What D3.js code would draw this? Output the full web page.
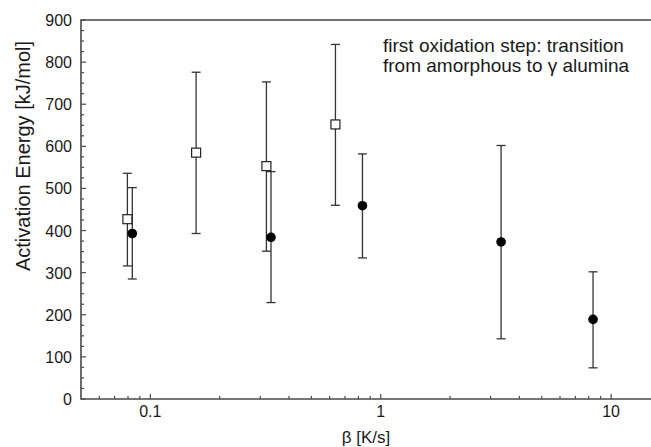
<!DOCTYPE html>
<html>
<head>
<meta charset="utf-8">
<script src="https://cdn.jsdelivr.net/npm/d3@7"></script>
<style>
  body { margin: 0; background: #fff; }
  text { font-family: "Liberation Sans", Arial, sans-serif; fill: #1a1a1a; }
</style>
</head>
<body>
<div id="chart"></div>
<script>
// open squares (first series)
const squareBeta = [0.0795, 0.158, 0.319, 0.636];
const squareEa   = [427, 585, 553, 652];
const squareLow  = [316, 393, 351, 460];
const squareHigh = [536, 776, 753, 842];

// filled circles (second series)
const circleBeta = [0.0835, 0.334, 0.833, 3.33, 8.35];
const circleEa   = [393, 384, 459, 373, 189];
const circleLow  = [285, 229, 335, 143, 74];
const circleHigh = [502, 540, 582, 602, 302];

const yTicks = [0, 100, 200, 300, 400, 500, 600, 700, 800, 900];
const xTicks = [0.1, 1, 10];
const noteLines = ["first oxidation step: transition", "from amorphous to \u03b3 alumina"];

// Setup SVG dimensions and margins
let margin = { top: 20, right: 0, bottom: 48, left: 81 },
    width = 651 - margin.left - margin.right,
    height = 447 - margin.top - margin.bottom;

let svg = d3.select("#chart").append("svg")
    .attr("width", 651)
    .attr("height", 447)
    .append("g")
    .attr("transform", `translate(${margin.left}, ${margin.top})`);

let x = d3.scaleLog().domain([0.05, 14.9]).range([0, width]);
let y = d3.scaleLinear().domain([0, 900]).range([379, 0]);

const axisColor = "#4a4a4a";

// minor ticks on x (log 2..9 per decade)
let xMinor = [];
[0.01, 0.1, 1, 10].forEach(d => {
    for (let k = 2; k <= 9; k++) {
        let v = d * k;
        if (v > 0.05 && v < 14.9 && !xTicks.includes(v)) xMinor.push(v);
    }
});
svg.selectAll(".xminor").data(xMinor).enter().append("line")
    .attr("x1", d => x(d)).attr("x2", d => x(d))
    .attr("y1", 379).attr("y2", 376)
    .attr("stroke", axisColor).attr("stroke-width", 1.2);
svg.selectAll(".xmajor").data(xTicks).enter().append("line")
    .attr("x1", d => x(d)).attr("x2", d => x(d))
    .attr("y1", 379).attr("y2", 374)
    .attr("stroke", axisColor).attr("stroke-width", 1.2);

// minor ticks on y every 25
let yMinor = d3.range(0, 901, 25).filter(d => d % 100 !== 0);
svg.selectAll(".yminor").data(yMinor).enter().append("line")
    .attr("x1", 0).attr("x2", 3)
    .attr("y1", d => y(d)).attr("y2", d => y(d))
    .attr("stroke", axisColor).attr("stroke-width", 1.2);
svg.selectAll(".ymajor").data(yTicks).enter().append("line")
    .attr("x1", 0).attr("x2", 5)
    .attr("y1", d => y(d)).attr("y2", d => y(d))
    .attr("stroke", axisColor).attr("stroke-width", 1.2);

// frame: left, bottom, top
svg.append("path")
    .attr("d", `M${width},0 H0 V379 H${width}`)
    .attr("fill", "none")
    .attr("stroke", axisColor)
    .attr("stroke-width", 1.6);

// tick labels
svg.selectAll(".ylab").data(yTicks).enter().append("text")
    .attr("x", -9).attr("y", d => y(d) + 6)
    .attr("text-anchor", "end")
    .style("font-size", "16px")
    .text(d => d);
svg.selectAll(".xlab").data(xTicks).enter().append("text")
    .attr("x", d => x(d)).attr("y", 397)
    .attr("text-anchor", "middle")
    .style("font-size", "16px")
    .text(d => d);

// axis titles
svg.append("text")
    .attr("x", width / 2).attr("y", 423)
    .attr("text-anchor", "middle")
    .style("font-size", "17px")
    .text("\u03b2 [K/s]");
svg.append("text")
    .attr("transform", `translate(${-51}, ${136}) rotate(-90)`)
    .attr("text-anchor", "middle")
    .style("font-size", "20px")
    .text("Activation Energy [kJ/mol]");

// annotation
svg.selectAll(".note").data(noteLines).enter().append("text")
    .attr("x", 302).attr("y", (d, i) => 32 + i * 20)
    .style("font-size", "19px")
    .text(d => d);

// error bars
function errorBars(betas, lows, highs) {
    betas.forEach((b, i) => {
        let cx = x(b);
        svg.append("line")
            .attr("x1", cx).attr("x2", cx)
            .attr("y1", y(lows[i])).attr("y2", y(highs[i]))
            .attr("stroke", "#333").attr("stroke-width", 1.3);
        [lows[i], highs[i]].forEach(v => {
            svg.append("line")
                .attr("x1", cx - 4.5).attr("x2", cx + 4.5)
                .attr("y1", y(v)).attr("y2", y(v))
                .attr("stroke", "#333").attr("stroke-width", 1.3);
        });
    });
}
errorBars(squareBeta, squareLow, squareHigh);
errorBars(circleBeta, circleLow, circleHigh);

// markers
squareBeta.forEach((b, i) => {
    svg.append("rect")
        .attr("x", x(b) - 4.5).attr("y", y(squareEa[i]) - 4.5)
        .attr("width", 9).attr("height", 9)
        .attr("fill", "#fff").attr("stroke", "#222").attr("stroke-width", 1.2);
});
circleBeta.forEach((b, i) => {
    svg.append("circle")
        .attr("cx", x(b)).attr("cy", y(circleEa[i]))
        .attr("r", 4.8)
        .attr("fill", "#000");
});
</script>
</body>
</html>
